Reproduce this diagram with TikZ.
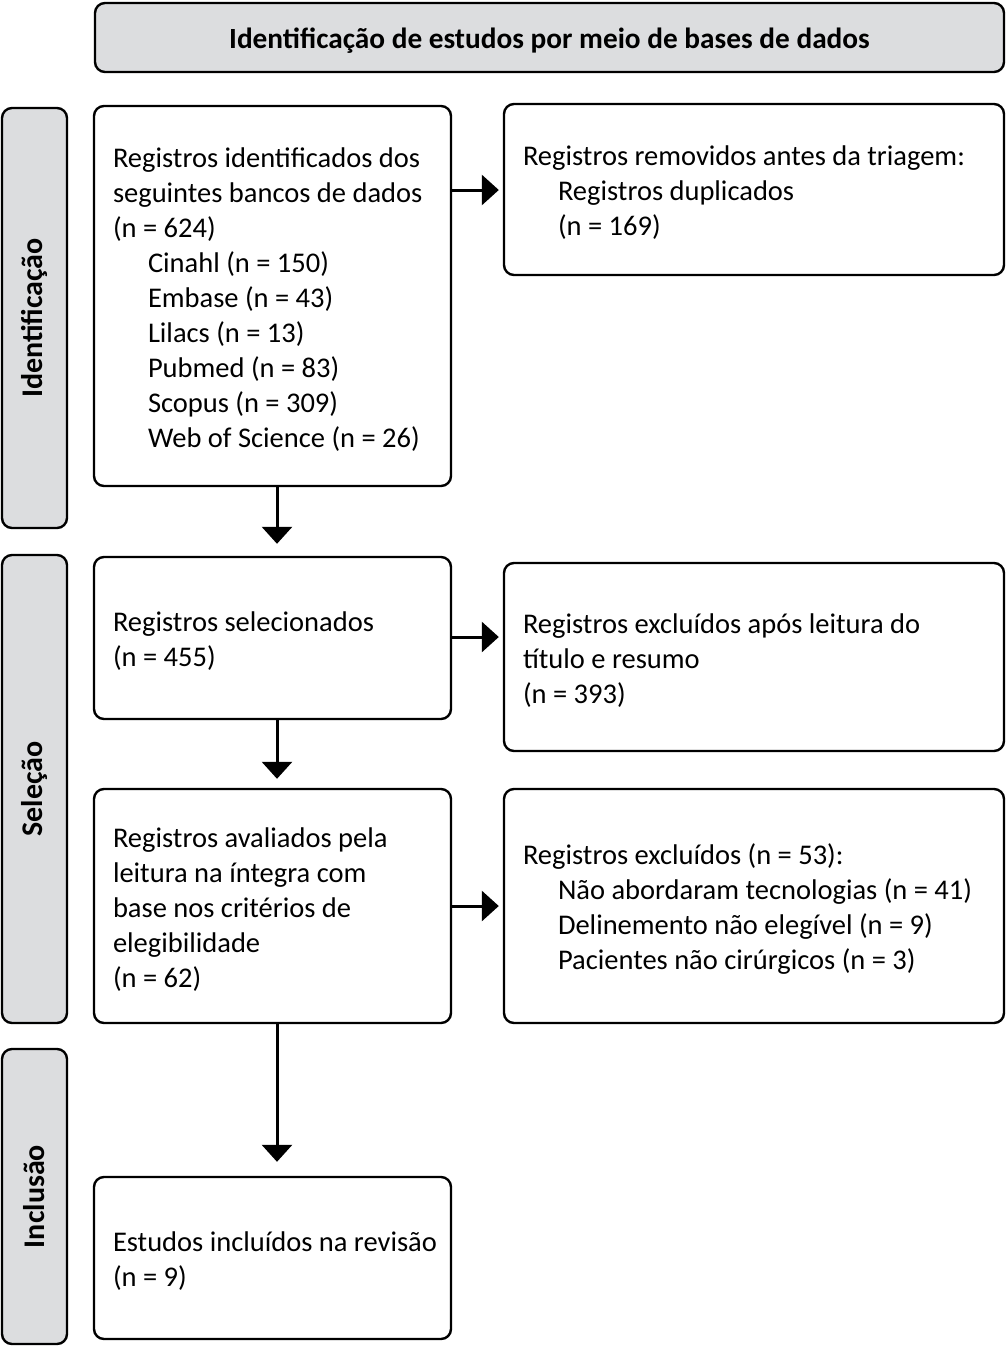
\documentclass[tikz,border=0pt]{standalone}
\usepackage{fontspec}
\setmainfont{Carlito}
\usetikzlibrary{arrows.meta}
\definecolor{boxgray}{HTML}{DCDDDF}
\newcommand{\lbox}[1]{\vbox{\kern8pt\hbox{\makebox[319pt][l]{\begin{tabular}{@{}l@{}}#1\end{tabular}}}}}
\newcommand{\rbox}[1]{\vbox{\kern8pt\hbox{\makebox[462pt][l]{\begin{tabular}{@{}l@{}}#1\end{tabular}}}}}
\newcommand{\hbx}[1]{\vbox{\kern6pt\hbox{#1}}}
\newcommand{\ind}{\hspace*{35pt}}
\begin{document}
\begin{tikzpicture}[x=1pt,y=-1pt,
  every node/.style={font=\fontsize{28.5}{35}\selectfont},
  frame/.style={draw=black, line width=2.4pt, rounded corners=10pt, inner sep=0pt},
  mainbox/.style={frame, fill=white, minimum width=357pt},
  rightbox/.style={frame, fill=white, minimum width=500pt},
  sidebox/.style={frame, fill=boxgray, minimum width=65pt, rotate=90, font=\fontsize{30}{35}\selectfont\bfseries},
  flow/.style={line width=3pt, -{Triangle[length=17pt,width=30pt]}}
]
\useasboundingbox (0,0) rectangle (1007,1347);
% header
\node[frame, fill=boxgray, minimum width=909pt, minimum height=69pt, font=\fontsize{29.3}{35}\selectfont\bfseries] (head) at (549.5,37.5) {\hbx{Identificação de estudos por meio de bases de dados}};
% side boxes
\node[sidebox, minimum width=420pt, minimum height=65pt] (sid) at (34.5,318) {Identificação};
\node[sidebox, minimum width=468pt, minimum height=65pt] (ssel) at (34.5,789) {Seleção};
\node[sidebox, minimum width=295pt, minimum height=65pt] (sinc) at (34.5,1196.5) {Inclusão};
% left boxes
\node[mainbox, minimum height=380pt] (b1) at (272.5,296) {\lbox{Registros identificados dos\\seguintes bancos de dados\\(n = 624)\\
\ind Cinahl (n = 150)\\
\ind Embase (n = 43)\\
\ind Lilacs (n = 13)\\
\ind Pubmed (n = 83)\\
\ind Scopus (n = 309)\\
\ind Web of Science (n = 26)}};
\node[mainbox, minimum height=162pt] (b2) at (272.5,638) {\lbox{Registros selecionados\\(n = 455)}};
\node[mainbox, minimum height=234pt] (b3) at (272.5,906) {\lbox{Registros avaliados pela\\leitura na íntegra com\\base nos critérios de\\elegibilidade\\(n = 62)}};
\node[mainbox, minimum height=162pt] (b4) at (272.5,1258) {\lbox{Estudos incluídos na revisão\\(n = 9)}};
% right boxes
\node[rightbox, minimum height=171pt] (r1) at (754,189.5) {\rbox{Registros removidos antes da triagem:\\
\ind Registros duplicados\\
\ind (n = 169)}};
\node[rightbox, minimum height=188pt] (r2) at (754,657) {\rbox{Registros excluídos após leitura do\\título e resumo\\(n = 393)}};
\node[rightbox, minimum height=234pt] (r3) at (754,906) {\rbox{Registros excluídos (n = 53):\\
\ind Não abordaram tecnologias (n = 41)\\
\ind Delinemento não elegível (n = 9)\\
\ind Pacientes não cirúrgicos (n = 3)}};
% arrows
\draw[flow, shorten >=12pt] (b1.south -| 277,0) -- (b2.north -| 277,0);
\draw[flow, shorten >=9pt] (b2.south -| 277,0) -- (b3.north -| 277,0);
\draw[flow, shorten >=14pt] (b3.south -| 277,0) -- (b4.north -| 277,0);
\draw[flow, shorten >=4pt] (b1.east |- 0,190) -- (r1.west |- 0,190);
\draw[flow, shorten >=4pt] (b2.east |- 0,637) -- (r2.west |- 0,637);
\draw[flow, shorten >=4pt] (b3.east |- 0,906) -- (r3.west |- 0,906);
\end{tikzpicture}
\end{document}
